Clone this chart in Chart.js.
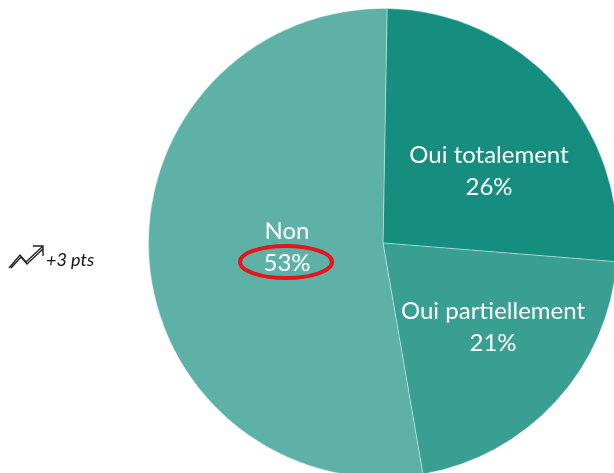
<!DOCTYPE html>
<html lang="fr">
<head>
  <meta charset="UTF-8" />
  <title>Répartition</title>
  <script src="https://cdn.jsdelivr.net/npm/chart.js"></script>
  <style>
    html, body { margin: 0; padding: 0; background: #fff; overflow: hidden; }
    .wrap { position: relative; width: 620px; height: 480px; }
  </style>
</head>
<body>
  <div class="wrap">
    <canvas id="pie" width="620" height="480"></canvas>
  </div>
  <script>
    const labels = ['Oui totalement', 'Oui partiellement', 'Non'];
    const values = [26, 21, 53];
    const colors = ['#158e80', '#3a9f93', '#5db1a7'];
    const evolution = '+3 pts';

    // label anchor offset from pie centre (px)
    const labelOffset = [[106, -72], [110, 84], [-96, 4]];

    const labelPlugin = {
      id: 'sliceLabels',
      afterDatasetsDraw(chart) {
        const ctx = chart.ctx;
        const meta = chart.getDatasetMeta(0);
        ctx.save();
        ctx.fillStyle = '#fff';
        ctx.font = '24px Lato, "Open Sans", sans-serif';
        ctx.textAlign = 'center';
        ctx.textBaseline = 'middle';
        meta.data.forEach((arc, i) => {
          const x = arc.x + labelOffset[i][0];
          const y = arc.y + labelOffset[i][1];
          ctx.fillText(labels[i], x, y - 16);
          ctx.fillText(values[i] + '%', x, y + 16);
          if (i === 2) {
            ctx.strokeStyle = '#e8141c';
            ctx.lineWidth = 4;
            ctx.beginPath();
            ctx.ellipse(x - 1, y + 15, 46, 16, 0, 0, Math.PI * 2);
            ctx.stroke();
          }
        });

        // trend arrow and evolution text
        ctx.strokeStyle = '#222';
        ctx.lineWidth = 1.4;
        ctx.beginPath();
        ctx.moveTo(9, 268);
        ctx.lineTo(20, 255);
        ctx.lineTo(26, 262);
        ctx.lineTo(42, 247);
        ctx.moveTo(11, 268);
        ctx.lineTo(21, 257);
        ctx.lineTo(27, 264);
        ctx.lineTo(43, 249);
        ctx.moveTo(33, 246);
        ctx.lineTo(43, 246);
        ctx.lineTo(43, 256);
        ctx.stroke();
        ctx.fillStyle = '#111';
        ctx.font = 'italic 18px Lato, "Open Sans", sans-serif';
        ctx.textAlign = 'left';
        ctx.textBaseline = 'alphabetic';
        ctx.fillText(evolution, 46, 266);
        ctx.restore();
      }
    };

    new Chart(document.getElementById('pie'), {
      type: 'pie',
      data: {
        labels: labels,
        datasets: [{
          data: values,
          backgroundColor: colors,
          borderColor: 'rgba(255,255,255,0.35)',
          borderWidth: 1
        }]
      },
      options: {
        responsive: false,
        animation: false,
        rotation: 1,
        layout: { padding: { left: 148, top: 8, right: 2, bottom: 2 } },
        plugins: {
          legend: { display: false },
          tooltip: { enabled: false }
        }
      },
      plugins: [labelPlugin]
    });
  </script>
</body>
</html>
